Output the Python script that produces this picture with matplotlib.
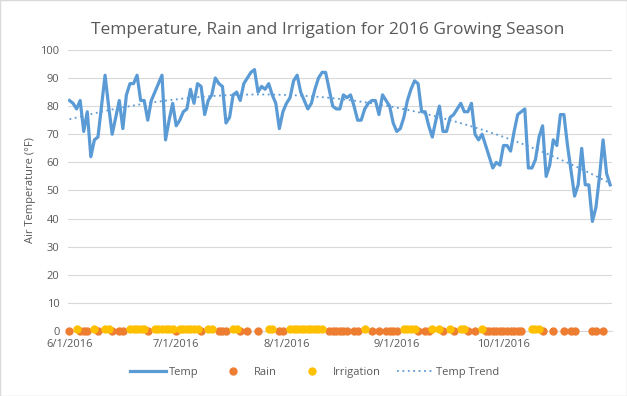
import numpy as np
import matplotlib
matplotlib.use("Agg")
import matplotlib.pyplot as plt
import matplotlib.dates as mdates
from matplotlib.lines import Line2D
from matplotlib.patches import Rectangle

# daily air temperature (F), 6/1/2016 - 10/31/2016
temp = [82, 81, 79, 82, 71, 78, 62, 68, 69, 80, 91, 80, 70, 76, 82, 72, 84, 88, 88, 91,
        82, 82, 75, 82, 85, 88, 91, 68, 75, 81, 73, 75, 78, 79, 86, 81, 88, 87, 77, 82,
        84, 90, 88, 87, 74, 76, 84, 85, 82, 88, 90, 92, 93, 85, 87, 86, 88, 84, 81, 72,
        78, 81, 83, 89, 91, 85, 82, 79, 81, 86, 90, 92, 92, 86, 80, 79, 79, 84, 83, 84,
        80, 75, 75, 79, 81, 82, 82, 77, 84, 82, 80, 74, 71, 72, 76, 82, 86, 89, 88, 78,
        78, 73, 69, 75, 80, 71, 71, 76, 77, 79, 81, 78, 78, 81, 70, 68, 70, 66, 62, 58,
        60, 59, 66, 66, 64, 71, 77, 78, 79, 58, 58, 61, 69, 73, 55, 59, 68, 66, 77, 77,
        66, 57, 48, 52, 65, 52, 52, 39, 44, 55, 68, 56, 52]
start = np.datetime64("2016-06-01")

# rain / irrigation (inches), by day offset from 6/1
rain_day = [0, 3, 4, 5, 8, 12, 14, 15, 22, 30, 37, 42, 43, 44, 48, 50, 53, 59, 60, 73,
            74, 75, 76, 77, 78, 80, 81, 85, 87, 89, 90, 91, 92, 98, 100, 101, 105, 108,
            112, 114, 117, 118, 119, 120, 121, 122, 123, 124, 125, 126, 127, 133, 136,
            139, 141, 142, 147, 148, 150]
rain_in = [0.0, 0.0, 0.1, 0.0, 0.0, 0.0, 0.1, 0.0, 0.0, 0.0, 0.0, 0.0, 0.0, 0.1, 0.0,
           0.0, 0.0, 0.0, 0.0, 0.0, 0.0, 0.0, 0.0, 0.0, 0.0, 0.0, 0.0, 0.0, 0.0, 0.0,
           0.0, 0.0, 0.0, 0.0, 0.0, 0.0, 0.0, 0.0, 0.0, 0.0, 0.0, 0.0, 0.0, 0.0, 0.0,
           0.0, 0.0, 0.0, 0.0, 0.0, 0.0, 0.0, 0.0, 0.0, 0.0, 0.0, 0.0, 0.0, 0.0]
irr_day = [2, 7, 10, 11, 17, 18, 19, 20, 21, 24, 25, 26, 27, 28, 29, 31, 32, 33, 34, 35,
           36, 39, 40, 46, 47, 56, 57, 62, 63, 64, 65, 66, 67, 68, 69, 70, 71, 83, 94, 95,
           96, 97, 102, 104, 107, 110, 111, 116, 130, 131, 132]
irr_in = [0.8, 0.8, 0.8, 0.8, 0.8, 0.8, 0.8, 0.8, 0.8, 0.8, 0.8, 0.8, 0.8, 0.8, 0.8,
          0.8, 0.8, 0.8, 0.8, 0.8, 0.8, 0.8, 0.8, 0.8, 0.8, 0.8, 0.8, 0.8, 0.8, 0.8,
          0.8, 0.8, 0.8, 0.8, 0.8, 0.8, 0.8, 0.8, 0.8, 0.8, 0.8, 0.8, 0.8, 0.8, 0.8,
          0.8, 0.8, 0.8, 0.8, 0.8, 0.8]

blue = "#5B9BD5"
orange = "#ED7D31"
gold = "#FFC000"
grey = "#595959"

plt.rcParams["font.family"] = ["Open Sans", "DejaVu Sans"]

dates = start + np.arange(len(temp))
rain_dates = start + np.array(rain_day)
irr_dates = start + np.array(irr_day)

fig = plt.figure(figsize=(6.27, 3.96), dpi=100)
ax = fig.add_axes([0.108, 0.164, 0.868, 0.71])

ax.plot(dates, temp, color=blue, lw=2.3, solid_joinstyle="round", zorder=3)
ax.plot(rain_dates, rain_in, "o", color=orange, ms=5, zorder=4, clip_on=False)
ax.plot(irr_dates, irr_in, "o", color=gold, ms=5, zorder=5, clip_on=False)

# polynomial trend line
t = np.arange(len(temp))
coef = np.polyfit(t, temp, 3)
ax.plot(dates, np.polyval(coef, t), color=blue, lw=1.3, ls=(0, (1, 2)), zorder=2)

ax.set_ylim(0, 100)
ax.set_yticks(range(0, 101, 10))
ax.set_xlim(dates[0] - np.timedelta64(12, "h"), dates[-1] + np.timedelta64(12, "h"))
ax.xaxis.set_major_locator(mdates.MonthLocator())
ax.xaxis.set_major_formatter(mdates.DateFormatter("%-m/%-d/%Y"))

ax.grid(axis="y", color="#D9D9D9", lw=0.8)
ax.set_axisbelow(True)
for s in ["left", "right", "top"]:
    ax.spines[s].set_visible(False)
ax.spines["bottom"].set_color("#D9D9D9")
ax.tick_params(length=0, labelsize=8, colors=grey, pad=6)
ax.set_ylabel("Air Temperature (°F)", fontsize=8, color=grey, labelpad=3)
fig.suptitle("Temperature, Rain and Irrigation for 2016 Growing Season",
             x=0.523, y=0.945, fontsize=12.5, color=grey)

handles = [Line2D([], [], color=blue, lw=2.3),
           Line2D([], [], ls="none", marker="o", color=orange, ms=5),
           Line2D([], [], ls="none", marker="o", color=gold, ms=5),
           Line2D([], [], color=blue, lw=1.3, ls=(0, (1, 2)))]
fig.legend(handles, ["Temp", "Rain", "Irrigation", "Temp Trend"], loc="center",
           bbox_to_anchor=(0.502, 0.06), ncol=4, frameon=False, fontsize=8,
           handlelength=3.2, handletextpad=0.3, columnspacing=1.5, labelcolor=grey)

fig.patches.append(Rectangle((0, 0), 1, 1, transform=fig.transFigure, fill=False,
                             edgecolor="#D9D9D9", lw=1))

fig.savefig("out.png", dpi=100)
